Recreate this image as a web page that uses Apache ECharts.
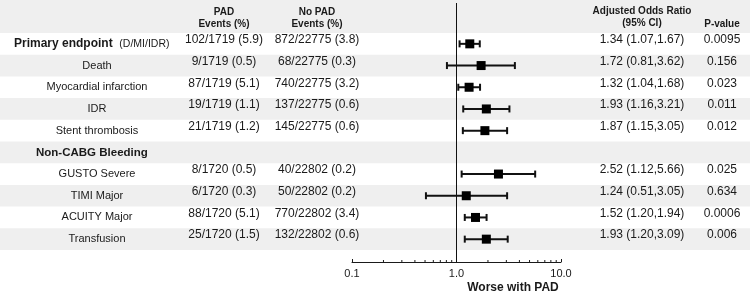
<!DOCTYPE html>
<html>
<head>
<meta charset="utf-8">
<script src="https://cdn.jsdelivr.net/npm/echarts@6.0.0/dist/echarts.min.js"></script>
<style>
  html, body { margin: 0; padding: 0; background: #fff; }
  #chart { width: 750px; height: 296px; }
</style>
</head>
<body>
<div id="chart"></div>
<script>
// rows of the table, top to bottom
const rowLabels = ['Primary endpoint', 'Death', 'Myocardial infarction', 'IDR', 'Stent thrombosis',
  'Non-CABG Bleeding', 'GUSTO Severe', 'TIMI Major', 'ACUITY Major', 'Transfusion'];
const rowNotes = ['(D/MI/IDR)', '', '', '', '', '', '', '', '', ''];
const headingRows = [0, 5];
const padEvents = ['102/1719 (5.9)', '9/1719 (0.5)', '87/1719 (5.1)', '19/1719 (1.1)', '21/1719 (1.2)',
  '', '8/1720 (0.5)', '6/1720 (0.3)', '88/1720 (5.1)', '25/1720 (1.5)'];
const noPadEvents = ['872/22775 (3.8)', '68/22775 (0.3)', '740/22775 (3.2)', '137/22775 (0.6)', '145/22775 (0.6)',
  '', '40/22802 (0.2)', '50/22802 (0.2)', '770/22802 (3.4)', '132/22802 (0.6)'];
const orPoint = [1.34, 1.72, 1.32, 1.93, 1.87, null, 2.52, 1.24, 1.52, 1.93];
const orLow = [1.07, 0.81, 1.04, 1.16, 1.15, null, 1.12, 0.51, 1.20, 1.20];
const orHigh = [1.67, 3.62, 1.68, 3.21, 3.05, null, 5.66, 3.05, 1.94, 3.09];
const pValues = ['0.0095', '0.156', '0.023', '0.011', '0.012', '', '0.025', '0.634', '0.0006', '0.006'];
// log axis
const axisMin = 0.1;
const axisMax = 10;
const minorTicks = [0.2, 0.3, 0.4, 0.5, 0.6, 0.7, 0.8, 0.9, 2, 3, 4, 5, 6, 7, 8, 9];

const FONT = '"Liberation Sans", Arial, Helvetica, sans-serif';
const INK = '#1a1a1a';
const BAND = '#efefef';

// column centres (px)
const col = { label: 97, pad: 224, noPad: 317, or: 642, p: 722 };

const chart = echarts.init(document.getElementById('chart'));

const fmtOR = (i) => orPoint[i].toFixed(2) + ' (' + orLow[i].toFixed(2) + ',' + orHigh[i].toFixed(2) + ')';

// every second row is shaded
const bandRows = rowLabels.map((_, i) => i).filter(i => i % 2 === 1);

const headerText = [
  ['PAD\nEvents (%)', col.pad, 18],
  ['No PAD\nEvents (%)', col.noPad, 18],
  ['Adjusted Odds Ratio\n(95% CI)', col.or, 17.5],
  ['P-value', col.p, 24]
];

const option = {
  animation: false,
  grid: { left: 352, right: 189, top: 3, bottom: 34 },
  xAxis: {
    type: 'log',
    logBase: 10,
    min: axisMin,
    max: axisMax,
    axisLine: { onZero: false, lineStyle: { color: INK, width: 1 } },
    axisTick: { inside: true, length: 3, lineStyle: { color: INK } },
    axisLabel: {
      margin: 6,
      fontFamily: FONT,
      fontSize: 11,
      color: INK,
      formatter: v => Number(v).toFixed(1)
    },
    splitLine: { show: false },
    minorTick: { show: false }
  },
  yAxis: {
    type: 'value',
    inverse: true,
    min: -1.3825,
    max: 10.553,
    show: false
  },
  graphic: [
    // header band
    { type: 'rect', z: -10, shape: { x: 0, y: 0, width: 750, height: 33 }, style: { fill: BAND } },
    {
      type: 'group',
      children: headerText.map(([t, x, y]) => ({
        type: 'text', x: x, y: y,
        style: { text: t, align: 'center', verticalAlign: 'middle', lineHeight: 12,
          font: 'bold 10px ' + FONT, fill: INK }
      })).concat([{
        type: 'text', x: 513, y: 288,
        style: { text: 'Worse with PAD', align: 'center', verticalAlign: 'middle',
          font: 'bold 12px ' + FONT, fill: INK }
      }])
    }
  ],
  series: [
    {
      // striped background bands
      type: 'custom',
      silent: true,
      clip: false,
      z: 0,
      data: bandRows.map(k => [1, k]),
      renderItem: (params, api) => {
        const k = api.value(1);
        const yTop = api.coord([1, k])[1];
        const yBot = api.coord([1, k + 1])[1];
        return {
          type: 'rect',
          shape: { x: 0, y: yTop, width: api.getWidth(), height: yBot - yTop },
          style: { fill: BAND }
        };
      }
    },
    {
      // table text
      type: 'custom',
      silent: true,
      clip: false,
      z: 2,
      data: rowLabels.map((_, i) => [1, i]),
      renderItem: (params, api) => {
        const i = api.value(1);
        const y = api.coord([1, i + 0.5])[1];
        const base = { verticalAlign: 'middle', fill: INK, fontFamily: FONT, fontSize: 12 };
        const kids = [];
        if (headingRows.indexOf(i) >= 0) {
          const note = rowNotes[i] ? '  {n|' + rowNotes[i] + '}' : '';
          kids.push({
            type: 'text', x: i === 0 ? 14 : 36, y: y,
            style: Object.assign({}, base, {
              text: '{b|' + rowLabels[i] + '}' + note, align: 'left',
              rich: {
                b: { fontWeight: 'bold', fontFamily: FONT, fontSize: i === 0 ? 12 : 11.5, fill: INK },
                n: { fontFamily: FONT, fontSize: 10.5, fill: INK }
              }
            })
          });
        } else {
          kids.push({ type: 'text', x: col.label, y: y,
            style: Object.assign({}, base, { text: rowLabels[i], align: 'center', fontSize: 11 }) });
        }
        const yn = y - 4;
        if (padEvents[i]) {
          kids.push({ type: 'text', x: col.pad, y: yn, style: Object.assign({}, base, { text: padEvents[i], align: 'center' }) });
          kids.push({ type: 'text', x: col.noPad, y: yn, style: Object.assign({}, base, { text: noPadEvents[i], align: 'center' }) });
        }
        if (orPoint[i] != null) {
          kids.push({ type: 'text', x: col.or, y: yn, style: Object.assign({}, base, { text: fmtOR(i), align: 'center' }) });
          kids.push({ type: 'text', x: col.p, y: yn, style: Object.assign({}, base, { text: pValues[i], align: 'center' }) });
        }
        return { type: 'group', children: kids };
      }
    },
    {
      // minor log ticks
      type: 'custom',
      silent: true,
      clip: false,
      z: 3,
      data: minorTicks.map(v => [v, 0]),
      renderItem: (params, api) => {
        const x = api.coord([api.value(0), 0])[0];
        const yb = params.coordSys.y + params.coordSys.height;
        return {
          type: 'line',
          shape: { x1: x, y1: yb, x2: x, y2: yb - 2 },
          style: { stroke: INK, lineWidth: 1 }
        };
      }
    },
    {
      // odds ratio with 95% CI
      type: 'custom',
      clip: false,
      z: 4,
      data: orPoint.map((v, i) => [v, i + 0.5, orLow[i], orHigh[i]]).filter(d => d[0] != null),
      encode: { x: [0, 2, 3], y: 1 },
      renderItem: (params, api) => {
        const r = api.value(1);
        const c = api.coord([api.value(0), r]);
        const lo = api.coord([api.value(2), r]);
        const hi = api.coord([api.value(3), r]);
        const stroke = { stroke: '#111', lineWidth: 2 };
        return {
          type: 'group',
          children: [
            { type: 'line', shape: { x1: lo[0], y1: c[1], x2: hi[0], y2: c[1] }, style: stroke },
            { type: 'line', shape: { x1: lo[0], y1: c[1] - 3.5, x2: lo[0], y2: c[1] + 3.5 }, style: stroke },
            { type: 'line', shape: { x1: hi[0], y1: c[1] - 3.5, x2: hi[0], y2: c[1] + 3.5 }, style: stroke },
            { type: 'rect', shape: { x: c[0] - 4.5, y: c[1] - 4.5, width: 9, height: 9 }, style: { fill: '#000' } }
          ]
        };
      },
      markLine: {
        silent: true,
        symbol: 'none',
        label: { show: false },
        lineStyle: { color: '#111', width: 1, type: 'solid' },
        data: [{ xAxis: 1 }]
      }
    }
  ]
};

chart.setOption(option);
</script>
</body>
</html>
